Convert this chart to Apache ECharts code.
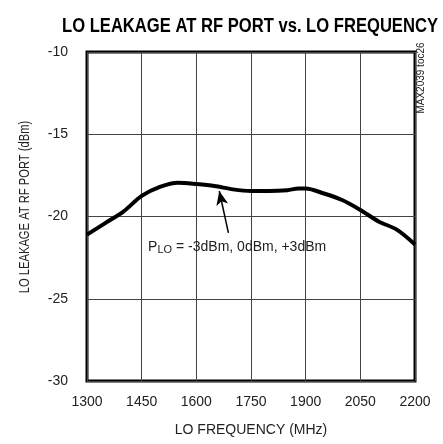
<!DOCTYPE html>
<html>
<head>
<meta charset="utf-8">
<script src="https://cdn.jsdelivr.net/npm/echarts@6/dist/echarts.min.js"></script>
<style>
html, body { margin: 0; padding: 0; background: #fff; }
#chart { width: 443px; height: 444px; }
</style>
</head>
<body>
<div id="chart"></div>
<script>
// LO leakage readings
var freqMHz = [1300, 1350, 1400, 1450, 1500, 1550, 1600, 1650, 1700, 1750, 1800, 1850, 1880, 1900, 1950, 2000, 2050, 2100, 2150, 2200];
var leakDbm = [-21.1, -20.4, -19.7, -18.75, -18.2, -17.95, -18.03, -18.15, -18.35, -18.45, -18.45, -18.4, -18.3, -18.3, -18.6, -19.0, -19.6, -20.3, -20.8, -21.7];
var arrowFrom = [1688, -21.0];
var arrowTo = [1663, -18.45];
var notePos = [1712, -21.85];

var font = '"Liberation Sans", Arial, sans-serif';

var chart = echarts.init(document.getElementById('chart'));
chart.setOption({
	animation: false,
	graphic: [{
		// title is condensed in the original, squeeze it horizontally
		type: 'text',
		x: 250,
		y: 26,
		scaleX: 0.83,
		style: {
			text: 'LO LEAKAGE AT RF PORT vs. LO FREQUENCY',
			font: 'bold 20px ' + font,
			fill: '#000',
			align: 'center',
			verticalAlign: 'middle'
		}
	}, {
		// y axis title, same squeeze
		type: 'text',
		x: 25,
		y: 207,
		rotation: Math.PI / 2,
		scaleX: 0.8,
		style: {
			text: 'LO LEAKAGE AT RF PORT (dBm)',
			font: '14px ' + font,
			fill: '#222',
			align: 'center',
			verticalAlign: 'middle'
		}
	}, {
		type: 'text',
		x: 421,
		y: 78,
		rotation: Math.PI / 2,
		style: {
			text: 'MAX2039 toc26',
			font: '10px ' + font,
			fill: '#222',
			align: 'center',
			verticalAlign: 'middle'
		}
	}],
	grid: {
		left: 87, right: 28, top: 52, bottom: 63,
		outerBoundsMode: 'none',
		containLabel: false,
		show: true,
		borderColor: '#000',
		borderWidth: 3
	},
	xAxis: {
		type: 'value',
		min: 1300, max: 2200, interval: 150,
		name: 'LO FREQUENCY (MHz)',
		nameLocation: 'middle',
		nameGap: 42,
		nameTextStyle: { fontFamily: font, fontSize: 14, color: '#222' },
		axisLine: { show: false },
		axisTick: { show: false },
		axisLabel: { fontFamily: font, fontSize: 14, color: '#222', margin: 14, formatter: function(v) { return String(v); } },
		splitLine: { lineStyle: { color: '#444', width: 1 } }
	},
	yAxis: {
		type: 'value',
		min: -30, max: -10, interval: 5,
		axisLine: { show: false },
		axisTick: { show: false },
		axisLabel: { fontFamily: font, fontSize: 14, color: '#222', margin: 19 },
		splitLine: { lineStyle: { color: '#444', width: 1 } }
	},
	series: [{
		type: 'line',
		data: freqMHz.map(function(f, i) { return [f, leakDbm[i]]; }),
		smooth: 0.3,
		symbol: 'none',
		lineStyle: { color: '#000', width: 4 },
		markLine: {
			silent: true,
			symbol: ['none', 'arrow'],
			symbolSize: [9, 14],
			label: { show: false },
			lineStyle: { color: '#000', width: 1.5, type: 'solid' },
			data: [[{ coord: arrowFrom }, { coord: arrowTo }]]
		},
		markPoint: {
			silent: true,
			symbol: 'circle',
			symbolSize: 0,
			data: [{ coord: notePos }],
			label: {
				show: true,
				position: 'inside',
				formatter: '{a|P}{s|LO}{a| = -3dBm, 0dBm, +3dBm}',
				rich: {
					a: { fontFamily: font, fontSize: 14, color: '#222' },
					s: { fontFamily: font, fontSize: 11, color: '#222', padding: [7, 0, 0, 0] }
				}
			}
		}
	}]
});
</script>
</body>
</html>
